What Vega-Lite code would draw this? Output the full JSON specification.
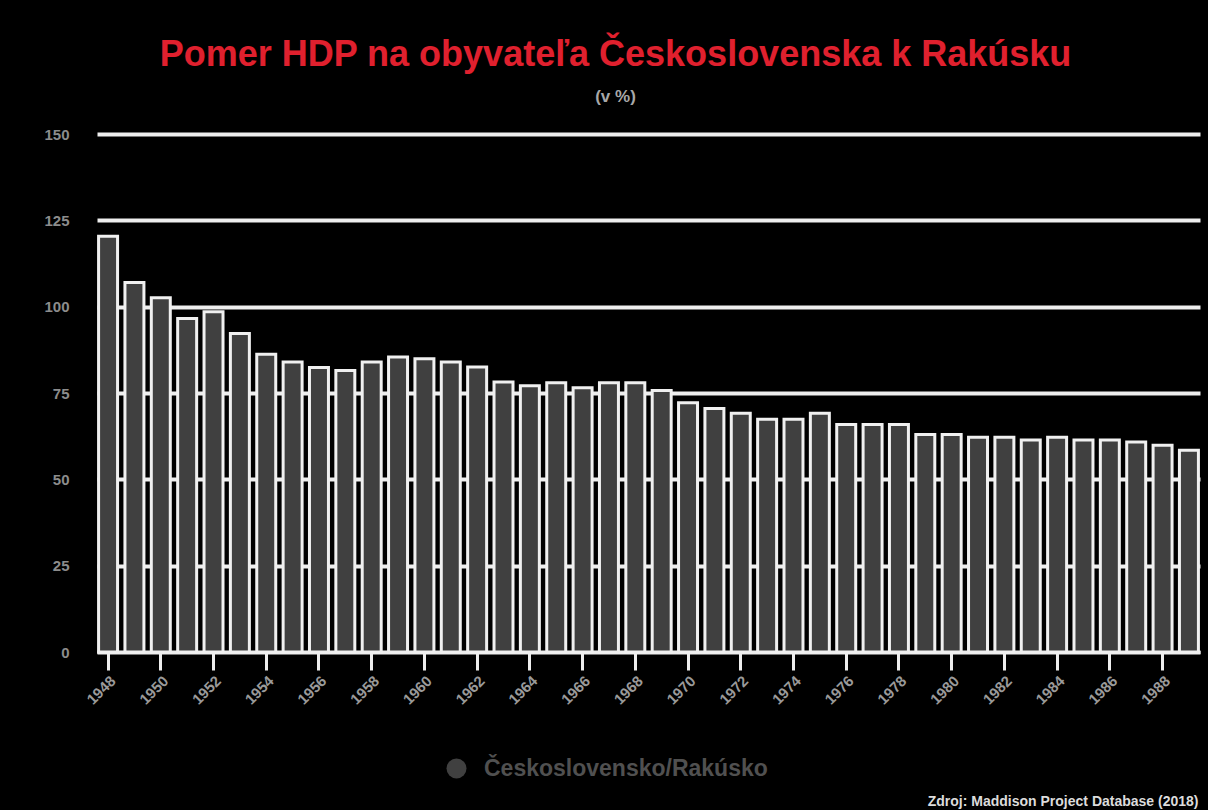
{
  "$schema": "https://vega.github.io/schema/vega-lite/v6.json",
  "width": 1103,
  "height": 518,
  "autosize": {"type": "none"},
  "padding": {"left": 97, "top": 134, "right": 8, "bottom": 158},
  "background": "#000000",
  "config": {"view": {"stroke": null}, "font": "Liberation Sans"},
  "title": {
    "text": "Pomer HDP na obyvateľa Československa k Rakúsku",
    "subtitle": "(v %)",
    "color": "#e0202e",
    "fontSize": 36,
    "fontWeight": "bold",
    "font": "Liberation Sans",
    "subtitleColor": "#a8a8a8",
    "subtitleFontSize": 17,
    "subtitleFontWeight": "bold",
    "subtitleFont": "Liberation Sans",
    "anchor": "middle",
    "frame": "group",
    "dx": -33,
    "offset": 21,
    "subtitlePadding": 15
  },
  "data": {
    "values": [
      {"rok": 1948, "pomer": 120.4, "serie": "Československo/Rakúsko"},
      {"rok": 1949, "pomer": 107.0, "serie": "Československo/Rakúsko"},
      {"rok": 1950, "pomer": 102.6, "serie": "Československo/Rakúsko"},
      {"rok": 1951, "pomer": 96.6, "serie": "Československo/Rakúsko"},
      {"rok": 1952, "pomer": 98.5, "serie": "Československo/Rakúsko"},
      {"rok": 1953, "pomer": 92.2, "serie": "Československo/Rakúsko"},
      {"rok": 1954, "pomer": 86.2, "serie": "Československo/Rakúsko"},
      {"rok": 1955, "pomer": 84.0, "serie": "Československo/Rakúsko"},
      {"rok": 1956, "pomer": 82.4, "serie": "Československo/Rakúsko"},
      {"rok": 1957, "pomer": 81.5, "serie": "Československo/Rakúsko"},
      {"rok": 1958, "pomer": 84.0, "serie": "Československo/Rakúsko"},
      {"rok": 1959, "pomer": 85.4, "serie": "Československo/Rakúsko"},
      {"rok": 1960, "pomer": 84.9, "serie": "Československo/Rakúsko"},
      {"rok": 1961, "pomer": 84.0, "serie": "Československo/Rakúsko"},
      {"rok": 1962, "pomer": 82.5, "serie": "Československo/Rakúsko"},
      {"rok": 1963, "pomer": 78.2, "serie": "Československo/Rakúsko"},
      {"rok": 1964, "pomer": 77.1, "serie": "Československo/Rakúsko"},
      {"rok": 1965, "pomer": 78.0, "serie": "Československo/Rakúsko"},
      {"rok": 1966, "pomer": 76.5, "serie": "Československo/Rakúsko"},
      {"rok": 1967, "pomer": 78.0, "serie": "Československo/Rakúsko"},
      {"rok": 1968, "pomer": 78.0, "serie": "Československo/Rakúsko"},
      {"rok": 1969, "pomer": 75.7, "serie": "Československo/Rakúsko"},
      {"rok": 1970, "pomer": 72.2, "serie": "Československo/Rakúsko"},
      {"rok": 1971, "pomer": 70.5, "serie": "Československo/Rakúsko"},
      {"rok": 1972, "pomer": 69.1, "serie": "Československo/Rakúsko"},
      {"rok": 1973, "pomer": 67.4, "serie": "Československo/Rakúsko"},
      {"rok": 1974, "pomer": 67.4, "serie": "Československo/Rakúsko"},
      {"rok": 1975, "pomer": 69.1, "serie": "Československo/Rakúsko"},
      {"rok": 1976, "pomer": 65.9, "serie": "Československo/Rakúsko"},
      {"rok": 1977, "pomer": 65.9, "serie": "Československo/Rakúsko"},
      {"rok": 1978, "pomer": 65.9, "serie": "Československo/Rakúsko"},
      {"rok": 1979, "pomer": 63.0, "serie": "Československo/Rakúsko"},
      {"rok": 1980, "pomer": 63.0, "serie": "Československo/Rakúsko"},
      {"rok": 1981, "pomer": 62.2, "serie": "Československo/Rakúsko"},
      {"rok": 1982, "pomer": 62.2, "serie": "Československo/Rakúsko"},
      {"rok": 1983, "pomer": 61.4, "serie": "Československo/Rakúsko"},
      {"rok": 1984, "pomer": 62.2, "serie": "Československo/Rakúsko"},
      {"rok": 1985, "pomer": 61.4, "serie": "Československo/Rakúsko"},
      {"rok": 1986, "pomer": 61.4, "serie": "Československo/Rakúsko"},
      {"rok": 1987, "pomer": 60.8, "serie": "Československo/Rakúsko"},
      {"rok": 1988, "pomer": 59.9, "serie": "Československo/Rakúsko"},
      {"rok": 1989, "pomer": 58.4, "serie": "Československo/Rakúsko"}
    ]
  },
  "mark": {"type": "bar", "stroke": "#f0f0f0", "strokeWidth": 3},
  "encoding": {
    "x": {
      "field": "rok",
      "type": "ordinal",
      "scale": {"paddingInner": 0.28, "paddingOuter": 0.06},
      "axis": {
        "values": [1948, 1950, 1952, 1954, 1956, 1958, 1960, 1962, 1964, 1966, 1968, 1970, 1972, 1974, 1976, 1978, 1980, 1982, 1984, 1986, 1988],
        "labelAngle": -45,
        "labelColor": "#9a9a9a",
        "labelFontSize": 15,
        "labelFontWeight": "bold",
        "labelPadding": 3,
        "domainColor": "#eeeeee",
        "domainWidth": 3,
        "tickColor": "#eeeeee",
        "tickWidth": 3,
        "tickSize": 18,
        "title": "Zdroj: Maddison Project Database (2018)",
        "titleColor": "#dcdcdc",
        "titleFontSize": 14,
        "titleFontWeight": "bold",
        "titleAnchor": "end",
        "titleAlign": "right",
        "titleX": 1101,
        "titleY": 153,
        "titleBaseline": "alphabetic"
      }
    },
    "y": {
      "field": "pomer",
      "type": "quantitative",
      "scale": {"domain": [0, 150]},
      "axis": {
        "values": [0, 25, 50, 75, 100, 125, 150],
        "title": null,
        "domain": false,
        "ticks": false,
        "grid": true,
        "gridColor": "#eeeeee",
        "gridWidth": 4,
        "gridOpacity": 1,
        "labelColor": "#8c8c8c",
        "labelFontSize": 15,
        "labelFontWeight": "bold",
        "labelPadding": 28
      }
    },
    "color": {
      "field": "serie",
      "type": "nominal",
      "scale": {"range": ["#404040"]},
      "legend": {
        "title": null,
        "orient": "none",
        "legendX": 348,
        "legendY": 623,
        "symbolType": "circle",
        "symbolSize": 400,
        "symbolStrokeWidth": 0,
        "labelColor": "#505050",
        "labelFontSize": 23,
        "labelFontWeight": "bold",
        "labelOffset": 16,
        "labelLimit": 0
      }
    }
  }
}
